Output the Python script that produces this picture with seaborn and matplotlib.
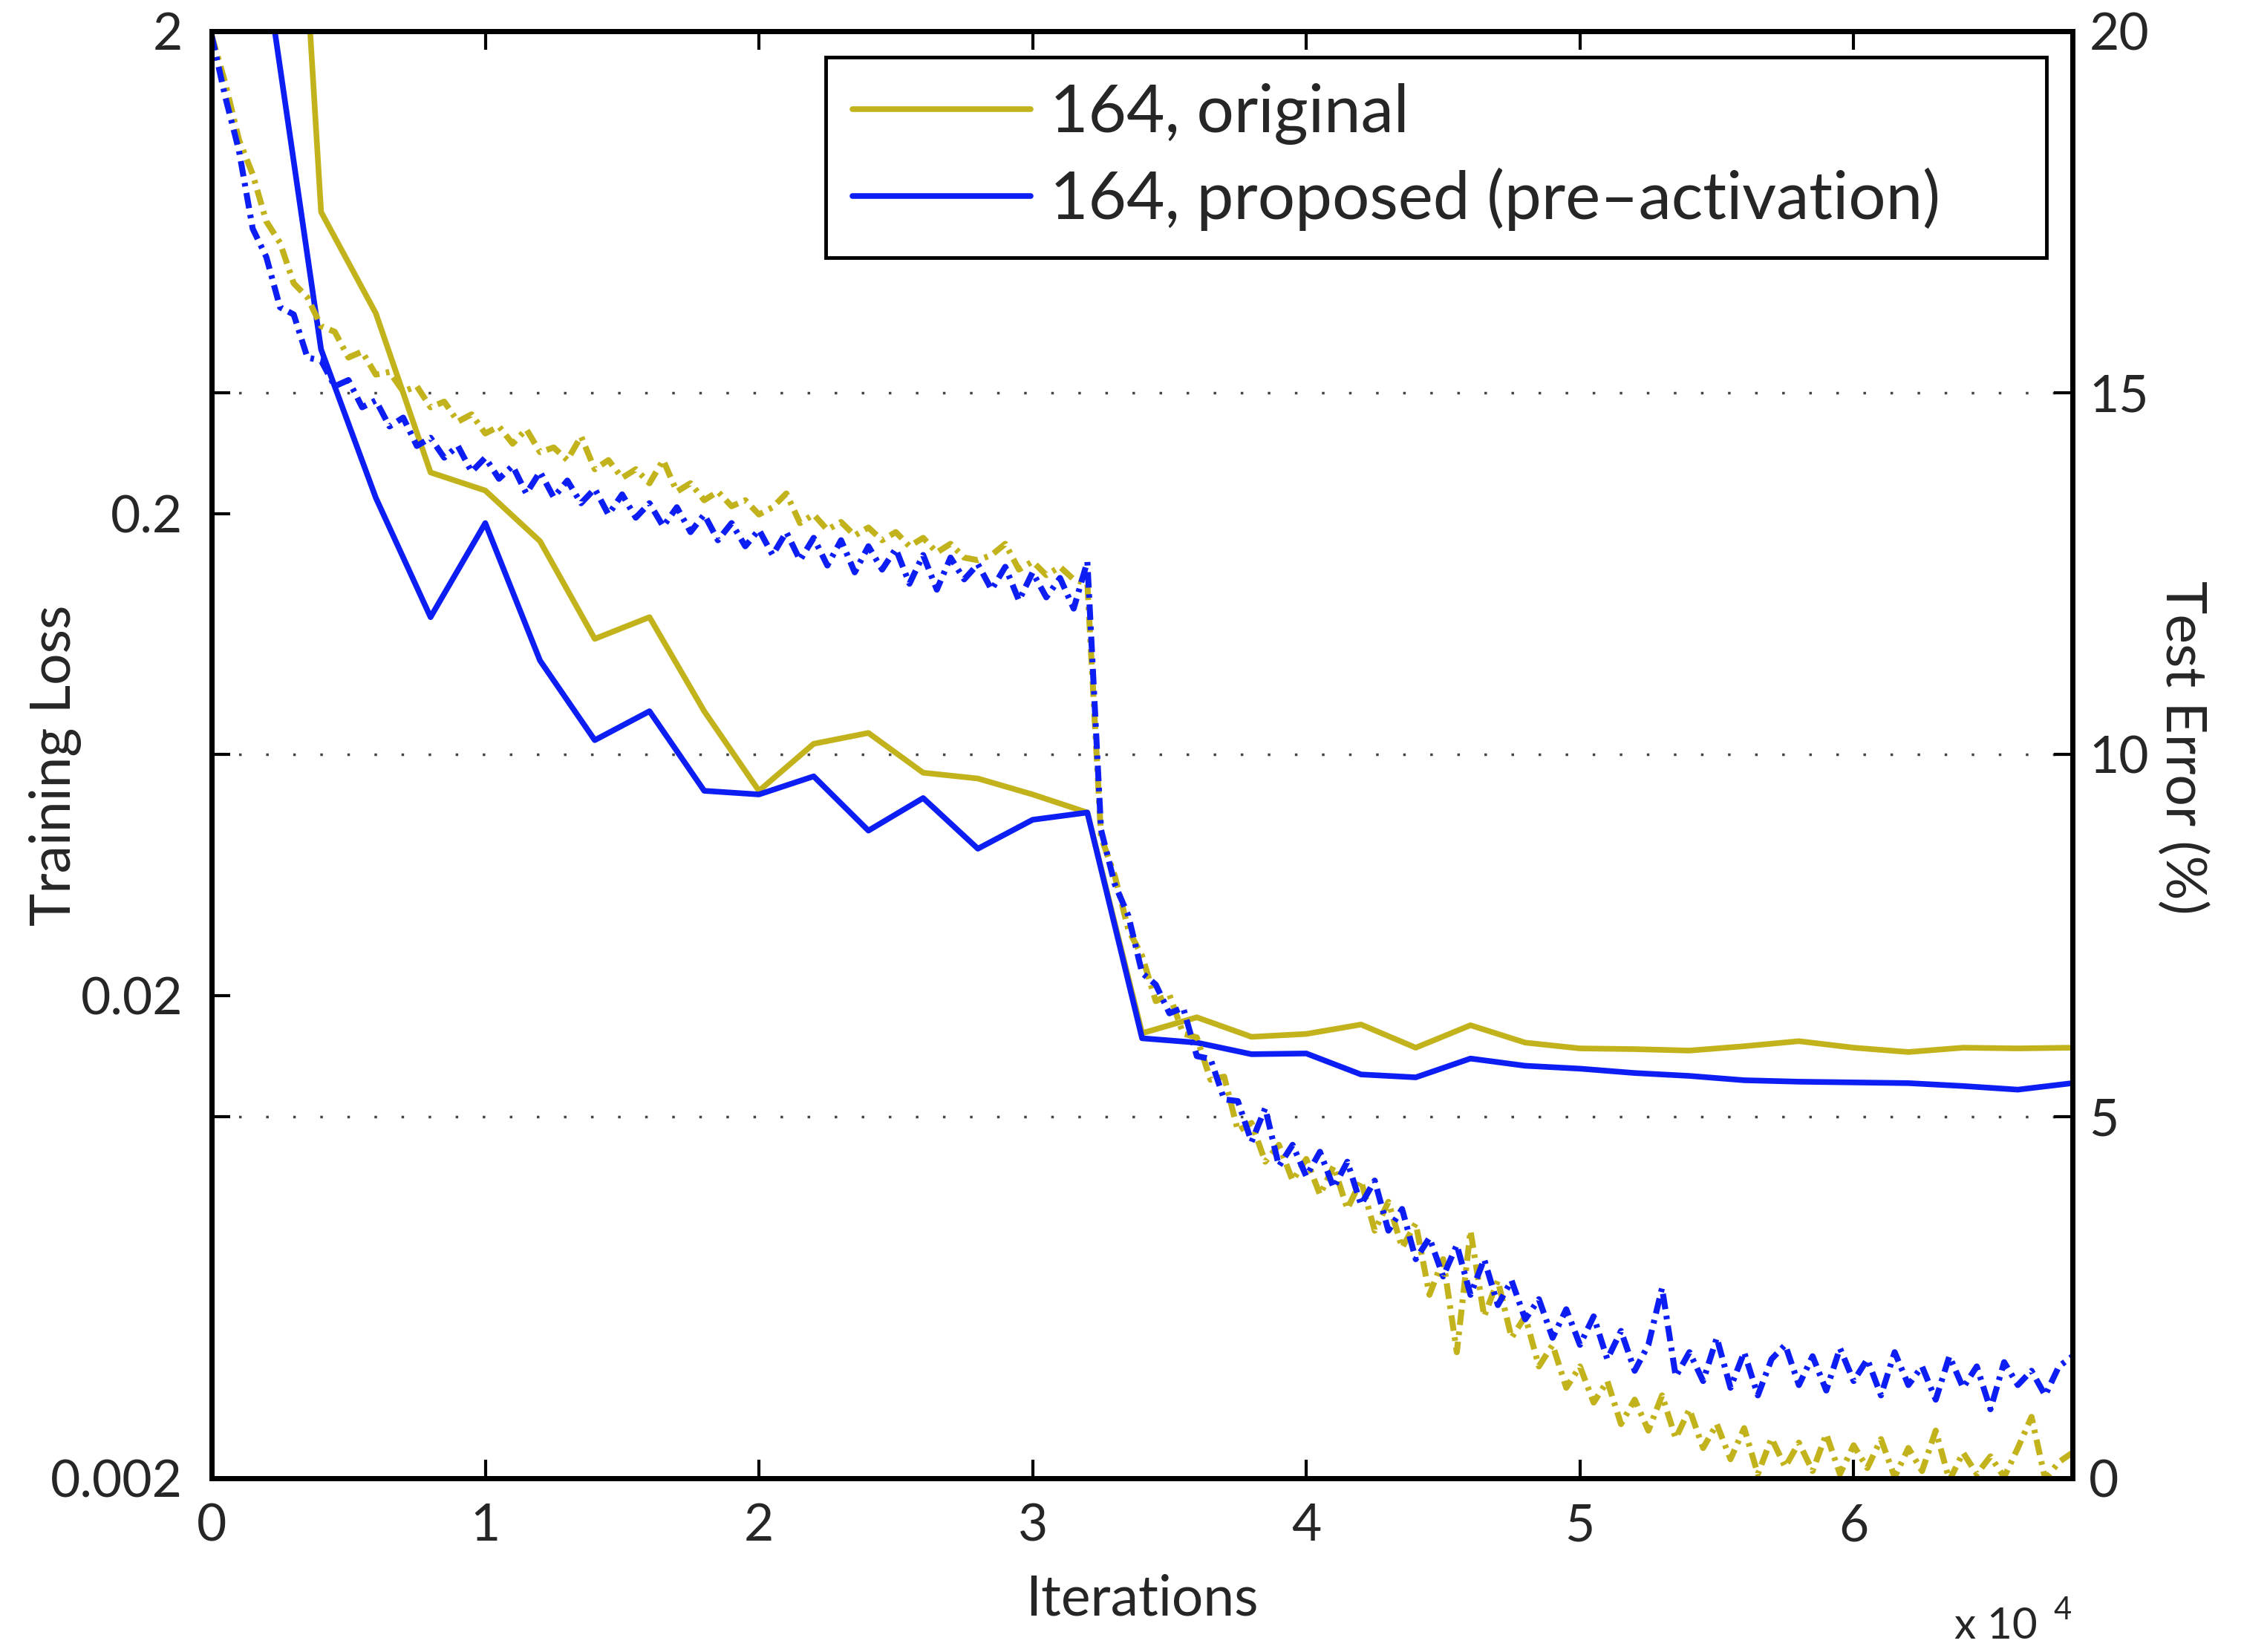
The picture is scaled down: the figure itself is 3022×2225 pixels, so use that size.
import numpy as np
import pandas as pd
import matplotlib
matplotlib.use("Agg")
from matplotlib import pyplot as plt
from matplotlib.ticker import NullLocator
import seaborn as sns

# training loss, logged every 500 iterations (left, log axis)
loss_iters = np.arange(0, 68001, 500)
loss_original = [
    1.96, 1.56, 1.19, 1.01, 0.806, 0.728, 0.600, 0.561, 0.489, 0.476,
    0.421, 0.433, 0.388, 0.393, 0.358, 0.367, 0.332, 0.341, 0.310, 0.321,
    0.293, 0.303, 0.279, 0.299, 0.268, 0.274, 0.258, 0.289, 0.247, 0.258,
    0.237, 0.247, 0.231, 0.258, 0.222, 0.231, 0.213, 0.222, 0.207, 0.213,
    0.199, 0.206, 0.220, 0.191, 0.199, 0.185, 0.192, 0.180, 0.187, 0.176,
    0.183, 0.171, 0.178, 0.166, 0.173, 0.162, 0.160, 0.164, 0.173, 0.153,
    0.159, 0.149, 0.155, 0.146, 0.143, 0.0427, 0.0355, 0.0274, 0.0242, 0.0195,
    0.0201, 0.0167, 0.0164, 0.0134, 0.0136, 0.0105, 0.0109, 0.00906, 0.00982, 0.00828,
    0.00918, 0.00774, 0.00887, 0.00723, 0.00828, 0.00652, 0.00748, 0.00601, 0.00675, 0.00480,
    0.00569, 0.00365, 0.00652, 0.00433, 0.00514, 0.00391, 0.00433, 0.00341, 0.00378, 0.00308,
    0.00341, 0.00287, 0.00318, 0.00259, 0.00291, 0.00251, 0.00297, 0.00242, 0.00278, 0.00231,
    0.00259, 0.00219, 0.00254, 0.00204, 0.00242, 0.00211, 0.00237, 0.00207, 0.00247, 0.00204,
    0.00234, 0.00210, 0.00241, 0.00201, 0.00231, 0.00207, 0.00251, 0.00198, 0.00226, 0.00204,
    0.00222, 0.00201, 0.00231, 0.00268, 0.00199, 0.00216, 0.00226,
]
loss_proposed = [
    1.96, 1.46, 1.13, 0.779, 0.680, 0.535, 0.517, 0.421, 0.415, 0.367,
    0.378, 0.332, 0.343, 0.303, 0.316, 0.276, 0.287, 0.261, 0.276, 0.244,
    0.261, 0.236, 0.251, 0.220, 0.244, 0.216, 0.234, 0.210, 0.225, 0.199,
    0.219, 0.196, 0.210, 0.188, 0.206, 0.183, 0.199, 0.176, 0.191, 0.171,
    0.185, 0.164, 0.183, 0.160, 0.178, 0.156, 0.176, 0.151, 0.171, 0.153,
    0.169, 0.143, 0.164, 0.139, 0.162, 0.146, 0.157, 0.139, 0.155, 0.132,
    0.151, 0.134, 0.147, 0.127, 0.159, 0.0442, 0.0341, 0.0293, 0.0223, 0.0211,
    0.0184, 0.0189, 0.0150, 0.0148, 0.0122, 0.0121, 0.00996, 0.0117, 0.00887, 0.00982,
    0.00845, 0.00950, 0.00800, 0.00906, 0.00738, 0.00828, 0.00652, 0.00723, 0.00569, 0.00630,
    0.00524, 0.00609, 0.00480, 0.00569, 0.00457, 0.00514, 0.00427, 0.00470, 0.00391, 0.00448,
    0.00378, 0.00433, 0.00353, 0.00404, 0.00334, 0.00378, 0.00496, 0.00325, 0.00365, 0.00318,
    0.00391, 0.00308, 0.00365, 0.00297, 0.00353, 0.00378, 0.00312, 0.00358, 0.00304, 0.00372,
    0.00318, 0.00353, 0.00297, 0.00365, 0.00312, 0.00341, 0.00291, 0.00358, 0.00308, 0.00341,
    0.00278, 0.00348, 0.00312, 0.00334, 0.00297, 0.00341, 0.00358,
]

# test error (%), every 2000 iterations (right axis)
err_iters = np.arange(2000, 68001, 2000)
err_original = [
    30.0, 17.5, 16.1, 13.9, 13.65, 12.95, 11.6, 11.9, 10.6, 9.5,
    10.15, 10.3, 9.75, 9.67, 9.45, 9.2, 6.15, 6.37, 6.1, 6.14,
    6.27, 5.95, 6.26, 6.02, 5.94, 5.93, 5.91, 5.97, 6.04, 5.95,
    5.89, 5.95, 5.94, 5.95,
]
err_proposed = [
    20.8, 15.6, 13.55, 11.9, 13.2, 11.3, 10.2, 10.6, 9.5, 9.45,
    9.7, 8.95, 9.4, 8.7, 9.1, 9.2, 6.08, 6.02, 5.86, 5.87,
    5.58, 5.54, 5.8, 5.7, 5.66, 5.6, 5.56, 5.5, 5.48, 5.47,
    5.46, 5.42, 5.37, 5.46,
]

legend_labels = ["164, original", "164, proposed (pre\u2013activation)"]
loss_ticks = [0.002, 0.02, 0.2, 2]
loss_ticklabels = ["0.002", "0.02", "0.2", "2"]
err_ticks = [0, 5, 10, 15, 20]
iter_ticks = [0, 10000, 20000, 30000, 40000, 50000, 60000]
iter_ticklabels = ["0", "1", "2", "3", "4", "5", "6"]

YELLOW = "#c2b21c"
BLUE = "#0d1ef5"

sns.set_theme(style="white")
plt.rcParams["font.family"] = ["Lato", "DejaVu Sans"]

loss_df = pd.DataFrame({"iter": loss_iters, "original": loss_original,
                        "proposed": loss_proposed})
err_df = pd.DataFrame({"iter": err_iters, "original": err_original,
                       "proposed": err_proposed})

fig = plt.figure(figsize=(30.22, 22.25), dpi=100)
ax = fig.add_axes([0.0943, 0.1052, 0.8293, 0.8760])
ax2 = ax.twinx()
# loss curves drawn above the error axis (and its grid)
ax.set_zorder(ax2.get_zorder() + 1)
ax.patch.set_visible(False)

dash = (0, (2.6, 1.1, 0.6, 1.1))
sns.lineplot(data=loss_df, x="iter", y="original", ax=ax, color=YELLOW,
             linewidth=5.8, linestyle=dash)
sns.lineplot(data=loss_df, x="iter", y="proposed", ax=ax, color=BLUE,
             linewidth=5.8, linestyle=dash)

sns.lineplot(data=err_df, x="iter", y="original", ax=ax2, color=YELLOW,
             linewidth=5.5, label=legend_labels[0])
sns.lineplot(data=err_df, x="iter", y="proposed", ax=ax2, color=BLUE,
             linewidth=5.5, label=legend_labels[1])

ax.set_yscale("log")
ax.set_ylim(0.002, 2)
ax.set_yticks(loss_ticks)
ax.set_yticklabels(loss_ticklabels)
ax.yaxis.set_minor_locator(NullLocator())
ax.set_xlim(0, 68000)
ax.set_xticks(iter_ticks)
ax.set_xticklabels(iter_ticklabels)

ax2.set_ylim(0, 20)
ax2.set_yticks(err_ticks)
ax2.set_yticklabels([str(t) for t in err_ticks])
ax2.grid(False)
ax2.yaxis.grid(True, linestyle=(0, (1, 9.5)), color="#444444", linewidth=2.5)
ax.grid(False)

for a in (ax, ax2):
    for sp in a.spines.values():
        sp.set_visible(True)
        sp.set_color("black")
        sp.set_linewidth(5)

ax.tick_params(axis="x", which="major", direction="in", top=True, bottom=True,
               length=18, width=3, labelsize=50, pad=24, color="black")
ax.tick_params(axis="y", which="major", direction="in", left=True, right=False,
               length=18, width=3, labelsize=50, pad=28, color="black")
ax2.tick_params(axis="y", which="major", direction="in", left=True, right=True,
                labelleft=False, labelright=True, length=18, width=3,
                labelsize=50, pad=16, color="black")

ax.set_xlabel("Iterations", fontsize=54)
ax.xaxis.set_label_coords(0.5, -0.066)
ax.set_ylabel("Training Loss", fontsize=54)
ax.yaxis.set_label_coords(-0.070, 0.4926)
ax2.set_ylabel("Test Error (%)", fontsize=54, rotation=270, va="bottom")
ax2.yaxis.set_label_coords(1.045, 0.505)

# legend box stretched to the width of the original one
leg = ax2.legend(loc="upper left", bbox_to_anchor=(0.330, 0.5, 0.656, 0.482),
                 mode="expand", borderaxespad=0, frameon=True, fancybox=False,
                 edgecolor="black", framealpha=1, fontsize=64,
                 handlelength=2.7, handletextpad=0.3, borderpad=0.4,
                 labelspacing=0.34)
leg.get_frame().set_linewidth(3.5)

fig.text(0.8895, 0.0153, "x 10", fontsize=42, ha="center", va="center")
fig.text(0.919, 0.025, "4", fontsize=30, ha="center", va="center")

fig.savefig("out.png", dpi=100)
